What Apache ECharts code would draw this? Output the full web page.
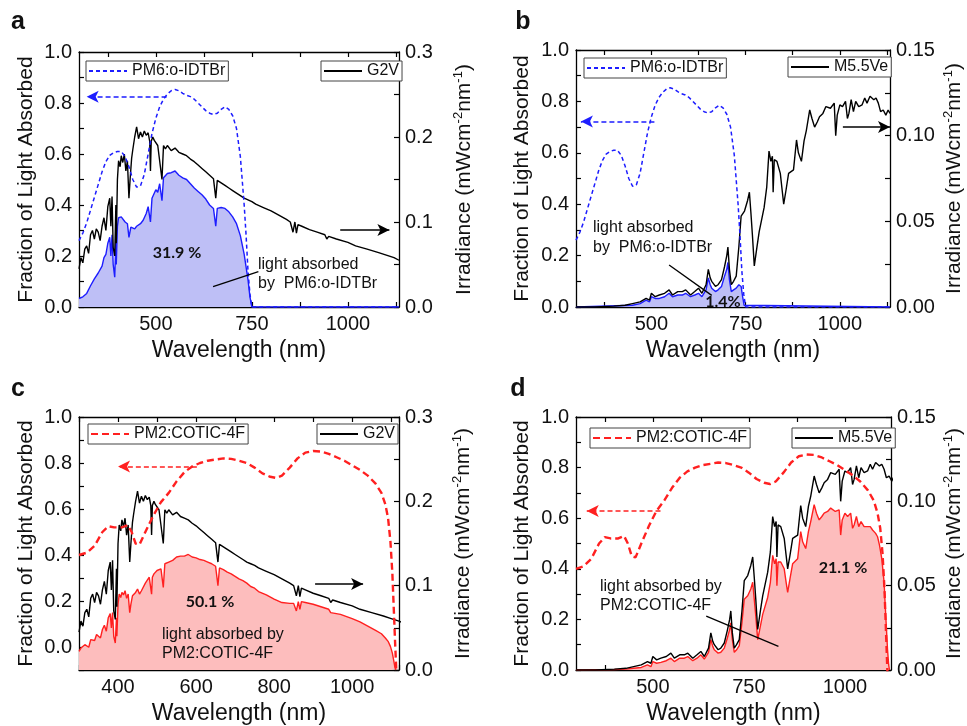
<!DOCTYPE html>
<html><head><meta charset="utf-8">
<script src="https://cdn.jsdelivr.net/npm/echarts@6/dist/echarts.min.js"></script>
<style>html,body{margin:0;padding:0;background:#fff}#c{width:967px;height:726px}</style>
</head><body><div id="c"></div>
<script>
// ---- Data (wavelength nm, value) ----
const G2V = [[300,0.045],[305,0.058],[310,0.052],[315,0.068],[320,0.072],[325,0.063],[330,0.085],[335,0.090],[340,0.080],[345,0.092],[350,0.088],[355,0.078],[360,0.095],[365,0.105],[370,0.090],[375,0.118],[380,0.128],[383,0.095],[386,0.130],[389,0.070],[393,0.060],[396,0.120],[397,0.075],[400,0.150],[403,0.172],[407,0.165],[410,0.178],[414,0.170],[418,0.180],[422,0.160],[426,0.172],[430,0.128],[433,0.150],[437,0.175],[440,0.185],[445,0.200],[450,0.212],[455,0.198],[460,0.206],[465,0.200],[470,0.207],[475,0.202],[480,0.205],[484,0.195],[486,0.160],[488,0.195],[492,0.200],[496,0.196],[500,0.197],[505,0.190],[510,0.192],[516,0.150],[520,0.190],[525,0.186],[530,0.190],[540,0.184],[550,0.187],[560,0.182],[570,0.180],[580,0.178],[590,0.174],[600,0.171],[610,0.167],[620,0.163],[630,0.159],[640,0.155],[650,0.151],[656,0.128],[660,0.149],[670,0.146],[680,0.143],[690,0.140],[700,0.137],[710,0.134],[720,0.131],[730,0.128],[740,0.126],[750,0.124],[760,0.121],[780,0.117],[800,0.113],[820,0.108],[840,0.103],[850,0.100],[857,0.088],[862,0.100],[866,0.087],[870,0.097],[880,0.095],[900,0.091],[920,0.088],[940,0.085],[945,0.080],[950,0.083],[970,0.080],[1000,0.076],[1020,0.072],[1050,0.068],[1080,0.064],[1100,0.061],[1120,0.058],[1133,0.055]];

const M55VE = [[300,0.000],[350,0.000],[400,0.0005],[430,0.001],[450,0.002],[470,0.003],[486,0.005],[495,0.004],[500,0.008],[510,0.006],[521,0.007],[535,0.008],[547,0.010],[556,0.007],[570,0.009],[582,0.009],[591,0.010],[604,0.007],[615,0.009],[625,0.011],[634,0.008],[645,0.013],[651,0.022],[656,0.017],[660,0.015],[670,0.012],[677,0.013],[686,0.016],[694,0.0235],[700,0.030],[703,0.035],[707,0.022],[712,0.013],[718,0.015],[725,0.018],[732,0.035],[738,0.053],[747,0.056],[755,0.062],[760,0.067],[764,0.055],[768,0.042],[773,0.024],[780,0.035],[786,0.044],[799,0.058],[806,0.070],[812,0.091],[817,0.085],[821,0.088],[823,0.067],[826,0.086],[833,0.085],[842,0.078],[847,0.068],[851,0.060],[857,0.068],[864,0.078],[877,0.080],[885,0.0975],[890,0.090],[898,0.085],[905,0.097],[911,0.103],[920,0.115],[926,0.110],[933,0.105],[940,0.108],[946,0.111],[955,0.113],[963,0.117],[975,0.116],[985,0.119],[989,0.100],[993,0.112],[1000,0.118],[1007,0.117],[1015,0.120],[1020,0.110],[1024,0.113],[1030,0.121],[1036,0.114],[1042,0.120],[1050,0.117],[1059,0.118],[1066,0.122],[1072,0.119],[1080,0.123],[1085,0.124],[1090,0.121],[1096,0.122],[1102,0.119],[1108,0.114],[1115,0.115],[1122,0.112],[1128,0.115],[1133,0.113]];

const PM6_ABS = [[300,0.26],[310,0.29],[320,0.33],[330,0.38],[340,0.43],[350,0.48],[360,0.53],[370,0.57],[380,0.595],[390,0.605],[400,0.61],[410,0.61],[420,0.59],[430,0.55],[440,0.50],[450,0.47],[460,0.475],[470,0.52],[480,0.60],[490,0.68],[500,0.74],[510,0.785],[520,0.815],[530,0.835],[540,0.848],[550,0.853],[560,0.848],[570,0.838],[580,0.83],[590,0.825],[600,0.815],[610,0.80],[620,0.785],[630,0.77],[640,0.76],[650,0.755],[660,0.76],[670,0.775],[680,0.785],[690,0.775],[700,0.75],[710,0.70],[720,0.59],[730,0.40],[735,0.28],[740,0.14],[745,0.05],[750,0.0],[1133,0.0]];

const PM2_ABS = [[300,0.40],[320,0.41],[340,0.44],[360,0.50],[375,0.525],[390,0.52],[410,0.52],[425,0.53],[435,0.50],[445,0.45],[455,0.445],[470,0.50],[490,0.57],[510,0.63],[530,0.67],[550,0.72],[570,0.76],[590,0.785],[610,0.80],[630,0.81],[650,0.815],[670,0.82],[690,0.818],[710,0.81],[730,0.80],[750,0.78],[770,0.755],[790,0.74],[805,0.735],[820,0.745],[840,0.78],[860,0.82],[880,0.845],[900,0.852],[920,0.85],[940,0.84],[960,0.825],[980,0.81],[1000,0.79],[1020,0.77],[1040,0.745],[1060,0.71],[1075,0.67],[1085,0.62],[1092,0.56],[1098,0.46],[1103,0.32],[1107,0.15],[1110,0.02],[1113,-0.1]];

const PM6_G2V = [[300,0.010],[310,0.012],[320,0.016],[330,0.025],[340,0.033],[350,0.040],[355,0.038],[360,0.048],[365,0.058],[370,0.062],[375,0.075],[380,0.082],[383,0.060],[386,0.085],[389,0.050],[393,0.035],[396,0.080],[397,0.050],[400,0.095],[403,0.105],[410,0.106],[415,0.108],[420,0.100],[426,0.098],[430,0.082],[435,0.094],[440,0.094],[445,0.092],[450,0.095],[460,0.098],[467,0.102],[475,0.110],[480,0.118],[484,0.120],[486,0.100],[490,0.128],[500,0.138],[505,0.135],[510,0.145],[516,0.125],[520,0.152],[530,0.157],[540,0.158],[550,0.160],[560,0.155],[570,0.152],[580,0.150],[590,0.145],[600,0.140],[610,0.136],[620,0.132],[630,0.127],[640,0.120],[650,0.116],[656,0.095],[660,0.116],[670,0.117],[680,0.116],[690,0.112],[700,0.106],[710,0.098],[720,0.084],[730,0.062],[740,0.032],[745,0.012],[750,0.000],[1133,0.000]];

const PM6_M55 = [[300,0],[450,0.001],[470,0.002],[486,0.004],[495,0.003],[500,0.006],[510,0.005],[521,0.005],[535,0.006],[547,0.008],[556,0.006],[570,0.007],[582,0.007],[591,0.008],[604,0.006],[615,0.007],[625,0.008],[634,0.006],[645,0.010],[651,0.017],[656,0.013],[660,0.011],[670,0.009],[677,0.010],[686,0.012],[694,0.018],[700,0.022],[703,0.026],[707,0.016],[712,0.009],[718,0.010],[725,0.011],[732,0.013],[738,0.012],[742,0.006],[746,0.001],[750,0],[1133,0]];

const PM2_G2V = [[300,0.022],[305,0.026],[310,0.024],[315,0.030],[320,0.030],[325,0.027],[330,0.036],[335,0.038],[340,0.035],[345,0.042],[350,0.043],[355,0.038],[360,0.048],[365,0.053],[370,0.046],[375,0.062],[380,0.067],[383,0.050],[386,0.068],[389,0.040],[393,0.032],[396,0.062],[397,0.040],[400,0.078],[403,0.090],[407,0.086],[410,0.092],[414,0.089],[418,0.094],[422,0.085],[426,0.090],[430,0.068],[433,0.078],[437,0.088],[440,0.090],[445,0.092],[450,0.096],[455,0.090],[460,0.094],[465,0.096],[470,0.103],[475,0.105],[480,0.110],[484,0.108],[486,0.090],[488,0.110],[492,0.114],[496,0.115],[500,0.118],[505,0.118],[510,0.120],[516,0.098],[520,0.126],[525,0.125],[530,0.128],[540,0.130],[550,0.134],[560,0.135],[570,0.135],[580,0.137],[590,0.134],[600,0.133],[610,0.131],[620,0.130],[630,0.128],[640,0.126],[650,0.123],[656,0.100],[660,0.121],[670,0.119],[680,0.116],[690,0.114],[700,0.111],[710,0.108],[720,0.106],[730,0.103],[740,0.099],[750,0.097],[760,0.093],[780,0.089],[800,0.084],[820,0.080],[840,0.079],[850,0.079],[857,0.070],[862,0.081],[866,0.072],[870,0.081],[880,0.080],[900,0.078],[920,0.075],[940,0.072],[945,0.068],[950,0.070],[970,0.066],[1000,0.061],[1020,0.057],[1040,0.052],[1060,0.047],[1075,0.043],[1085,0.038],[1092,0.034],[1098,0.028],[1103,0.020],[1107,0.010],[1110,0.002],[1112,0.000]];

const PM2_M55 = [[300,0],[400,0.0003],[430,0.0005],[450,0.001],[470,0.0015],[486,0.003],[495,0.002],[500,0.005],[510,0.004],[521,0.0045],[535,0.0055],[547,0.007],[556,0.005],[570,0.007],[582,0.007],[591,0.008],[604,0.0055],[615,0.007],[625,0.009],[634,0.0065],[645,0.0105],[651,0.018],[656,0.014],[660,0.012],[670,0.010],[677,0.0105],[686,0.013],[694,0.019],[700,0.024],[703,0.028],[707,0.018],[712,0.0105],[718,0.012],[725,0.0145],[732,0.028],[738,0.042],[747,0.044],[755,0.048],[760,0.052],[764,0.042],[768,0.032],[773,0.018],[780,0.026],[786,0.033],[799,0.043],[806,0.052],[812,0.068],[817,0.063],[821,0.066],[823,0.050],[826,0.064],[833,0.064],[842,0.060],[847,0.052],[851,0.046],[857,0.054],[864,0.063],[877,0.066],[885,0.082],[890,0.076],[898,0.072],[905,0.082],[911,0.088],[920,0.098],[926,0.093],[933,0.089],[940,0.091],[946,0.093],[955,0.094],[963,0.096],[975,0.094],[985,0.095],[989,0.080],[993,0.089],[1000,0.093],[1007,0.091],[1015,0.093],[1020,0.084],[1024,0.086],[1030,0.091],[1036,0.085],[1042,0.088],[1050,0.085],[1059,0.085],[1066,0.085],[1072,0.083],[1080,0.081],[1085,0.079],[1090,0.074],[1096,0.066],[1102,0.052],[1105,0.038],[1108,0.025],[1111,0.012],[1114,0.003],[1116,0]];

// tick positions
const X_TICKS_AB = [375,500,625,750,875,1000,1125];
const X_LABELS_AB = [500,750,1000];
const X_LABELS_C = [400,600,800,1000];
const X_TICKS_D = [375,500,625,750,875,1000];
const X_LABELS_D = [500,750,1000];

const FONT = '"Liberation Sans", Arial, sans-serif';
const BLUE = '#1d1dff', BLUE_FILL = '#bebff6';
const RED = '#ff2020', RED_FILL = '#fdbdbd';
const INK = '#111';

const grids = [
  {left:79, top:52, width:320, height:255},
  {left:576, top:50, width:320, height:257},
  {left:79, top:417, width:320, height:257},
  {left:576, top:417, width:320, height:257}
];

const axisLine = {show:true, onZero:false, lineStyle:{color:'#000', width:1.3}};
function xPair(g, max, opts){
  const tick = {show:true, inside:true, length:5, lineStyle:{color:'#000', width:1.2}};
  if (opts.ticks) tick.customValues = opts.ticks;
  const bottom = {type:'value', gridIndex:g, position:'bottom', min:300, max:max,
    axisLine, axisTick:tick, splitLine:{show:false},
    axisLabel:{customValues:opts.labels, fontSize:20, color:INK, margin:7, fontFamily:FONT, formatter: v => String(v)},
    name:'Wavelength (nm)', nameLocation:'middle', nameGap:32,
    nameTextStyle:{fontSize:23, color:INK, fontFamily:FONT}};
  const top = {type:'value', gridIndex:g, position:'top', min:300, max:max,
    axisLine, axisTick:tick, splitLine:{show:false}, axisLabel:{show:false}};
  if (opts.interval){ bottom.interval = opts.interval; top.interval = opts.interval; }
  return [bottom, top];
}
function yPair(g, leftMin, rightMax, rightStep, rightDigits, gapL, gapR){
  const left = {type:'value', gridIndex:g, position:'left', min:leftMin, max:1, interval:0.1,
    axisLine, splitLine:{show:false},
    axisTick:{show:true, inside:true, length:5, lineStyle:{color:'#000', width:1.2}},
    axisLabel:{fontSize:20, color:INK, margin:7, fontFamily:FONT,
      formatter: v => { const k = Math.round(v*10); return (k >= 0 && k % 2 === 0) ? (k/10).toFixed(1) : ''; }},
    name:'Fraction of Light Absorbed', nameLocation:'middle', nameGap:gapL, nameRotate:90,
    nameTextStyle:{fontSize:21, color:INK, fontFamily:FONT}};
  const right = {type:'value', gridIndex:g, position:'right', min:0, max:rightMax, interval:rightStep,
    axisLine, splitLine:{show:false},
    axisTick:{show:true, inside:true, length:5, lineStyle:{color:'#000', width:1.2}},
    axisLabel:{fontSize:20, color:INK, margin:6, fontFamily:FONT,
      formatter: v => { const k = Math.round(v/rightStep); return k % 2 === 0 ? v.toFixed(rightDigits) : ''; }},
    name:'Irradiance (mWcm{s|-2}nm{s|-1})', nameLocation:'middle', nameGap:gapR, nameRotate:90,
    nameTextStyle:{fontSize:21, color:INK, fontFamily:FONT, lineHeight:24,
      rich:{s:{fontSize:13, color:INK, fontFamily:FONT, verticalAlign:'top', lineHeight:24}}}};
  return [left, right];
}

const xAxis = [].concat(
  xPair(0, 1133, {ticks:X_TICKS_AB, labels:X_LABELS_AB}),
  xPair(1, 1133, {ticks:X_TICKS_AB, labels:X_LABELS_AB}),
  xPair(2, 1120, {interval:100, labels:X_LABELS_C}),
  xPair(3, 1120, {ticks:X_TICKS_D, labels:X_LABELS_D})
);
const yAxis = [].concat(
  yPair(0, 0, 0.3, 0.05, 1, 42, 53),
  yPair(1, 0, 0.15, 0.025, 2, 43, 52),
  yPair(2, -0.1, 0.3, 0.05, 1, 42, 52),
  yPair(3, 0, 0.15, 0.025, 2, 43, 51)
);

function arrowLine(from, to, color, dashed, width){
  return {silent:true, animation:false, symbol:['none','arrow'], symbolSize:[9,12],
    label:{show:false}, emphasis:{disabled:true},
    lineStyle:{color, type: dashed ? [5,3] : 'solid', width:width||1.5},
    data:[[{coord:from},{coord:to}]]};
}
function leader(from, to){
  return {silent:true, animation:false, symbol:['none','none'],
    label:{show:false}, emphasis:{disabled:true},
    lineStyle:{color:'#000', type:'solid', width:1.3},
    data:[[{coord:from},{coord:to}]]};
}

function panelSeries(g, fillData, fillLine, fillColor, irrName, irrData, absName, absData, absColor, absStyle, dashArrow, blackArrow, leaderLine){
  const base = {type:'line', xAxisIndex:2*g, showSymbol:false, symbol:'none', silent:true, animation:false, smooth:false};
  const fill = Object.assign({}, base, {name:'absorbed'+g, yAxisIndex:2*g+1, data:fillData, z:2,
    lineStyle:{color:fillLine, width:1.4}, itemStyle:{color:fillLine}, areaStyle:{color:fillColor, opacity:1}});
  if (leaderLine) fill.markLine = leaderLine;
  const irr = Object.assign({}, base, {name:irrName, yAxisIndex:2*g+1, data:irrData, z:3,
    lineStyle:{color:'#000', width:1.4}, itemStyle:{color:'#000'}, markLine: blackArrow});
  const abs = Object.assign({}, base, {name:absName, yAxisIndex:2*g, data:absData, z:4,
    lineStyle:absStyle, itemStyle:{color:absColor}, markLine: dashArrow});
  return [fill, irr, abs];
}

const blueDash = {color:BLUE, width:1.5, type:[4,3]};
const redDash = {color:RED, width:2.4, type:[7,4]};

const series = [].concat(
  panelSeries(0, PM6_G2V, BLUE, BLUE_FILL, 'G2V', G2V, 'PM6:o-IDTBr', PM6_ABS, BLUE, blueDash,
    arrowLine([528,0.825],[320,0.825], BLUE, true), arrowLine([980,0.0906],[1108,0.0906], '#000', false),
    leader([649,0.0239],[767,0.0416])),
  panelSeries(1, PM6_M55, BLUE, BLUE_FILL, 'M5.5Ve', M55VE, 'PM6:o-IDTBr', PM6_ABS, BLUE, blueDash,
    arrowLine([508,0.722],[313,0.722], BLUE, true), arrowLine([1008,0.105],[1133,0.105], '#000', false),
    leader([547,0.0245],[660,0.0068])),
  panelSeries(2, PM2_G2V, RED, RED_FILL, 'G2V', G2V, 'PM2:COTIC-4F', PM2_ABS, RED, redDash,
    arrowLine([602,0.785],[400,0.785], RED, true), arrowLine([905,0.102],[1028,0.102], '#000', false), null),
  panelSeries(3, PM2_M55, RED, RED_FILL, 'M5.5Ve', M55VE, 'PM2:COTIC-4F', PM2_ABS, RED, redDash,
    arrowLine([520,0.628],[328,0.628], RED, true), arrowLine([1008,0.105],[1131,0.105], '#000', false),
    leader([639,0.0319],[827,0.014]))
);

function lg(left, top, name){
  return {left, top, data:[name], selectedMode:false, orient:'horizontal',
    itemWidth:38, itemHeight:12, itemGap:0, padding:[2,3,2,2],
    borderColor:'#444', borderWidth:1, backgroundColor:'#fff',
    itemStyle:{opacity:0},
    textStyle:{fontSize:16, color:INK, fontFamily:FONT}};
}
const legend = [
  lg(86, 61, 'PM6:o-IDTBr'), lg(321, 61, 'G2V'),
  lg(584, 58, 'PM6:o-IDTBr'), lg(788, 57, 'M5.5Ve'),
  lg(88, 424, 'PM2:COTIC-4F'), lg(317, 424, 'G2V'),
  lg(590, 428, 'PM2:COTIC-4F'), lg(792, 428, 'M5.5Ve')
];

function txt(x, y, text, size, weight, align, family){
  return {type:'text', x, y, silent:true, z:100,
    style:{text, fontSize:size, fontWeight:weight||'normal', fontFamily:family||FONT, fill:INK,
      textAlign:align||'left', textVerticalAlign:'middle'}};
}
const PCT = 'Lato, "Open Sans", sans-serif';
const graphic = [
  txt(18, 22, 'a', 25, 'bold', 'center'),
  txt(523, 22, 'b', 25, 'bold', 'center'),
  txt(18, 389, 'c', 25, 'bold', 'center'),
  txt(518, 389, 'd', 25, 'bold', 'center'),
  txt(177, 253, '31.9 %', 16, 'bold', 'center', PCT),
  txt(258, 265, 'light absorbed', 16),
  txt(258, 284, 'by  PM6:o-IDTBr', 16),
  txt(593, 228, 'light absorbed', 16),
  txt(593, 248, 'by  PM6:o-IDTBr', 16),
  txt(723, 302, '1.4%', 16, 'bold', 'center', PCT),
  txt(210, 602, '50.1 %', 16, 'bold', 'center', PCT),
  txt(162, 635, 'light absorbed by', 16),
  txt(162, 654, 'PM2:COTIC-4F', 16),
  txt(843, 568, '21.1 %', 16, 'bold', 'center', PCT),
  txt(600, 587, 'light absorbed by', 16),
  txt(600, 606, 'PM2:COTIC-4F', 16)
];

const chart = echarts.init(document.getElementById('c'), null, {renderer:'canvas'});
chart.setOption({animation:false, grid:grids, xAxis, yAxis, series, legend, graphic});
</script></body></html>
